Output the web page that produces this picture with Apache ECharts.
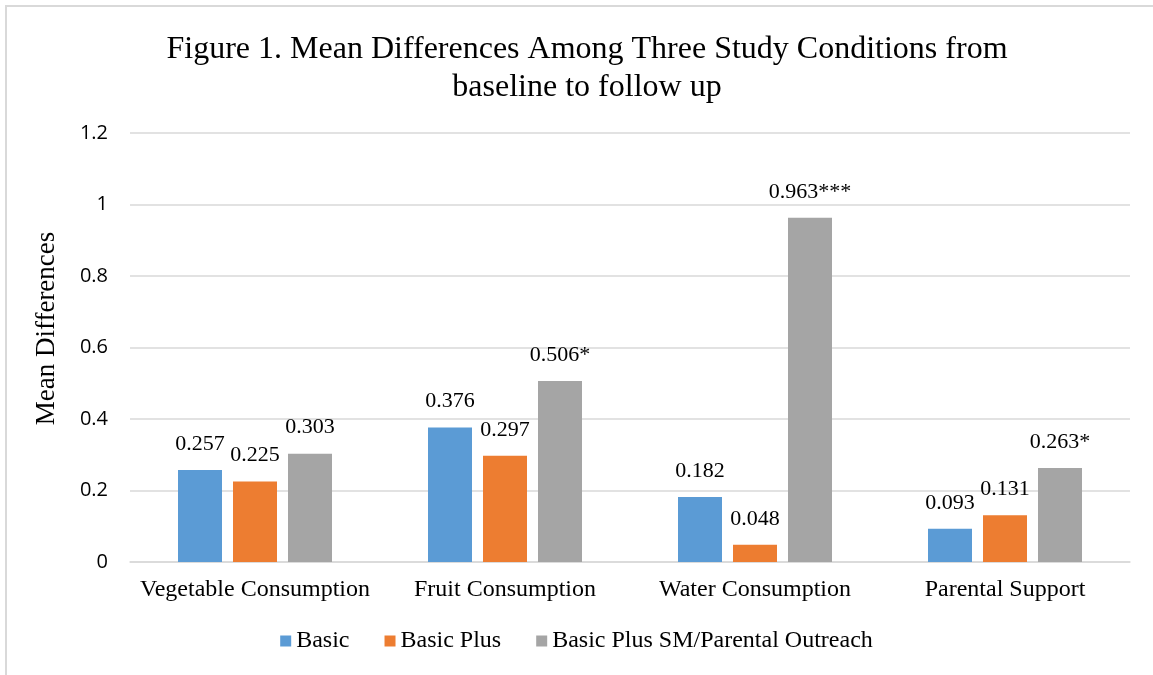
<!DOCTYPE html>
<html>
<head>
<meta charset="utf-8">
<script src="https://cdn.jsdelivr.net/npm/echarts@6/dist/echarts.min.js"></script>
<style>
  html, body { margin: 0; padding: 0; background: #fff; }
  #chart { width: 1153px; height: 675px; }
</style>
</head>
<body>
<div id="chart"></div>
<script>
// data
const categories = ['Vegetable Consumption', 'Fruit Consumption', 'Water Consumption', 'Parental Support'];
const seriesNames = ['Basic', 'Basic Plus', 'Basic Plus SM/Parental Outreach'];
const basic = [0.257, 0.376, 0.182, 0.093];
const basicPlus = [0.225, 0.297, 0.048, 0.131];
const outreach = [0.303, 0.506, 0.963, 0.263];
// significance stars shown after the value
const outreachStars = ['', '*', '***', '*'];
const yTicks = [0, 0.2, 0.4, 0.6, 0.8, 1, 1.2];

const colors = ['#5b9bd5', '#ed7d31', '#a5a5a5'];
const serif = '"Liberation Serif", "Times New Roman", serif';

function makeSeries(name, values, stars, color) {
    return {
        name: name,
        type: 'bar',
        data: values,
        barWidth: 44,
        barGap: '25%',
        itemStyle: { color: color },
        label: {
            show: true,
            position: 'top',
            distance: 15,
            fontFamily: serif,
            fontSize: 22,
            color: '#000',
            formatter: p => p.value + (stars ? stars[p.dataIndex] : '')
        }
    };
}

const option = {
    animation: false,
    backgroundColor: '#fff',
    graphic: [{
        type: 'rect',
        shape: { x: 6, y: 6, width: 1200, height: 700 },
        style: { fill: 'none', stroke: '#d9d9d9', lineWidth: 2 }
    }],
    title: {
        text: 'Figure 1. Mean Differences Among Three Study Conditions from\nbaseline to follow up',
        left: 582,
        textAlign: 'center',
        top: 26,
        textStyle: {
            fontFamily: serif,
            fontSize: 32,
            fontWeight: 'normal',
            color: '#000',
            lineHeight: 38
        }
    },
    legend: {
        data: seriesNames,
        bottom: 17,
        left: 'center',
        itemWidth: 11,
        itemHeight: 11,
        itemGap: 35,
        icon: 'rect',
        textStyle: { fontFamily: serif, fontSize: 24, color: '#000' }
    },
    grid: { left: 130, right: 23, top: 133, bottom: 113 },
    xAxis: {
        type: 'category',
        data: categories,
        axisLine: { lineStyle: { color: '#d9d9d9', width: 1.5 } },
        axisTick: { show: false },
        axisLabel: { interval: 0, fontFamily: serif, fontSize: 24, color: '#000', margin: 16 }
    },
    yAxis: {
        type: 'value',
        min: yTicks[0],
        max: yTicks[yTicks.length - 1],
        interval: 0.2,
        name: 'Mean Differences',
        nameLocation: 'middle',
        nameGap: 70,
        nameTextStyle: { fontFamily: serif, fontSize: 27, color: '#000', padding: [0, 0, 0, 38] },
        axisLine: { show: false },
        axisTick: { show: false },
        splitLine: { lineStyle: { color: '#d9d9d9', width: 1.5 } },
        axisLabel: {
            fontFamily: '"Open Sans", "Liberation Sans", sans-serif',
            fontSize: 20,
            color: '#000',
            margin: 22,
            formatter: v => String(Math.round(v * 10) / 10)
        }
    },
    series: [
        makeSeries(seriesNames[0], basic, null, colors[0]),
        makeSeries(seriesNames[1], basicPlus, null, colors[1]),
        makeSeries(seriesNames[2], outreach, outreachStars, colors[2])
    ]
};

const myChart = echarts.init(document.getElementById('chart'));
myChart.setOption(option);
</script>
</body>
</html>
